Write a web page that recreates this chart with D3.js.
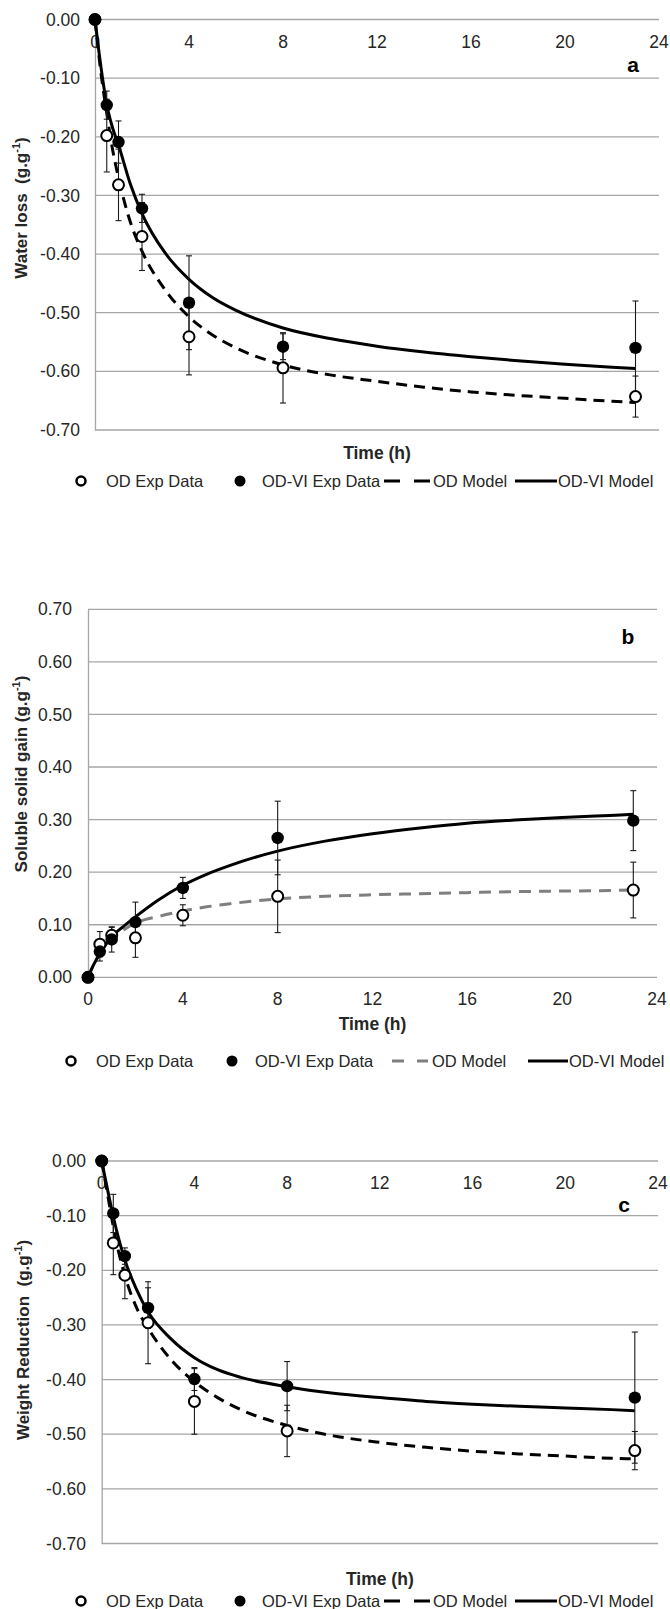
<!DOCTYPE html>
<html>
<head>
<meta charset="utf-8">
<script src="https://cdn.jsdelivr.net/npm/d3@7"></script>
<style>
  body { margin: 0; background: #fff; }
  svg { display: block; font-family: "Liberation Sans", Arial, sans-serif; }
</style>
</head>
<body>
<script>
// Sampling times (h) of the experiments.
var timeExp = [0, 0.5, 1, 2, 4, 8, 23];
// Times at which the model curves were read.
var timeModel = [0, 0.25, 0.5, 0.75, 1, 1.5, 2, 3, 4, 5, 6, 8, 10, 12, 14, 16, 18, 20, 22, 23];
var xTicks = [0, 4, 8, 12, 16, 20, 24];

// a: water loss
var wlOD      = [0, -0.198, -0.282, -0.370, -0.541, -0.594, -0.643];
var wlODErr   = [0, 0.062, 0.061, 0.058, 0.065, 0.060, 0.035];
var wlVI      = [0, -0.146, -0.209, -0.322, -0.483, -0.558, -0.560];
var wlVIErr   = [0, 0.024, 0.036, 0.024, 0.080, 0.022, 0.080];
var wlODModel = [0, -0.090, -0.160, -0.222, -0.270, -0.345, -0.395, -0.462, -0.507, -0.538, -0.560, -0.589,
                 -0.606, -0.617, -0.627, -0.635, -0.641, -0.646, -0.651, -0.653];
var wlVIModel = [0, -0.080, -0.145, -0.185, -0.214, -0.280, -0.331, -0.399, -0.443, -0.474, -0.496, -0.526,
                 -0.544, -0.557, -0.567, -0.575, -0.582, -0.588, -0.593, -0.595];

// b: soluble solid gain
var sgOD      = [0, 0.063, 0.080, 0.075, 0.118, 0.154, 0.166];
var sgODErr   = [0, 0.024, 0.015, 0.037, 0.020, 0.069, 0.053];
var sgVI      = [0, 0.049, 0.072, 0.105, 0.170, 0.265, 0.298];
var sgVIErr   = [0, 0.018, 0.024, 0.038, 0.020, 0.070, 0.057];
var sgODModel = [0, 0.025, 0.045, 0.060, 0.072, 0.090, 0.103, 0.116, 0.126, 0.134, 0.140, 0.149,
                 0.154, 0.157, 0.159, 0.161, 0.163, 0.164, 0.165, 0.166];
var sgVIModel = [0, 0.025, 0.045, 0.062, 0.077, 0.097, 0.115, 0.148, 0.175, 0.196, 0.213, 0.240,
                 0.259, 0.273, 0.284, 0.293, 0.299, 0.304, 0.308, 0.310];

// c: weight reduction
var wrOD      = [0, -0.150, -0.209, -0.296, -0.440, -0.494, -0.530];
var wrODErr   = [0, 0.058, 0.043, 0.075, 0.060, 0.047, 0.035];
var wrVI      = [0, -0.096, -0.174, -0.269, -0.399, -0.412, -0.433];
var wrVIErr   = [0, 0.035, 0.015, 0.037, 0.021, 0.045, 0.120];
var wrODModel = [0, -0.060, -0.120, -0.170, -0.210, -0.268, -0.306, -0.364, -0.404, -0.433, -0.455, -0.484,
                 -0.503, -0.515, -0.524, -0.531, -0.536, -0.540, -0.544, -0.545];
var wrVIModel = [0, -0.052, -0.102, -0.145, -0.181, -0.235, -0.276, -0.326, -0.360, -0.382, -0.396, -0.413,
                 -0.425, -0.433, -0.440, -0.445, -0.449, -0.452, -0.455, -0.457];

var width = 670, height = 1609;
var grid = "#a6a6a6", txt = "#262626";

var svg = d3.select("body").append("svg")
    .attr("width", width)
    .attr("height", height);

// Excel-style number: plain hyphen, two decimals.
function fmt(d) {
    var v = Math.round(d * 100) / 100;
    return (v < 0 ? "-" : "") + Math.abs(v).toFixed(2);
}

// One panel of the figure.
function panel(p) {
    var x = d3.scaleLinear().domain([0, 24]).range([p.left, p.right]);
    var y = d3.scaleLinear().domain(p.yDomain).range(p.yRange);
    var g = svg.append("g");

    // Horizontal gridlines.
    var yTicks = d3.range(0, 8).map(function(i) { return p.yDomain[0] + i * 0.1; });
    g.selectAll(".grid").data(yTicks).enter().append("line")
        .attr("x1", p.left).attr("x2", p.right)
        .attr("y1", function(d) { return y(d); })
        .attr("y2", function(d) { return y(d); })
        .attr("stroke", grid).attr("stroke-width", 1.3);

    // Y axis.
    var yAxis = g.append("g")
        .attr("transform", "translate(" + p.left + ",0)")
        .call(d3.axisLeft(y).tickValues(yTicks).tickSize(0).tickPadding(p.left - p.labelRight)
            .tickFormat(fmt));
    yAxis.select(".domain").attr("stroke", grid).attr("stroke-width", 1.3);
    yAxis.selectAll("text").attr("font-size", "17.5px").attr("fill", txt).attr("font-family", null);

    // X tick labels.
    g.selectAll(".xl").data(xTicks).enter().append("text")
        .attr("x", function(d) { return x(d); })
        .attr("y", p.xLabelY)
        .attr("text-anchor", "middle")
        .attr("font-size", "17.5px").attr("fill", txt)
        .text(function(d) { return d; });

    // Axis titles.
    g.append("text")
        .attr("x", (p.left + p.right) / 2).attr("y", p.timeY)
        .attr("text-anchor", "middle").attr("font-weight", "bold")
        .attr("font-size", "17.5px").attr("fill", txt)
        .text("Time (h)");

    var yt = g.append("text")
        .attr("transform", "translate(" + p.titleX + "," + p.titleY + ") rotate(-90)")
        .attr("text-anchor", "middle").attr("font-weight", "bold")
        .attr("font-size", "17px").attr("fill", txt);
    yt.append("tspan").text(p.title + "(g.g");
    yt.append("tspan").attr("font-size", "11px").attr("dy", -7).text("-1");
    yt.append("tspan").attr("dy", 7).text(")");

    g.append("text")
        .attr("x", p.letterX).attr("y", p.letterY)
        .attr("text-anchor", "middle").attr("font-weight", "bold")
        .attr("font-size", "21px").attr("fill", "#000")
        .text(p.letter);

    // Model curves.
    var line = d3.line()
        .x(function(d, i) { return x(timeModel[i]); })
        .y(function(d) { return y(d); })
        .curve(d3.curveMonotoneX);
    g.append("path").datum(p.odModel)
        .attr("d", line).attr("fill", "none")
        .attr("stroke", p.dashColor).attr("stroke-width", 3)
        .attr("stroke-dasharray", p.dash);
    g.append("path").datum(p.viModel)
        .attr("d", line).attr("fill", "none")
        .attr("stroke", "#000").attr("stroke-width", 3);

    // Error bars.
    function errors(vals, errs) {
        var eg = g.append("g").attr("stroke", "#1a1a1a").attr("stroke-width", 1.1);
        vals.forEach(function(v, i) {
            if (!errs[i]) return;
            var cx = x(timeExp[i]), y1 = y(v - errs[i]), y2 = y(v + errs[i]);
            eg.append("line").attr("x1", cx).attr("x2", cx).attr("y1", y1).attr("y2", y2);
            eg.append("line").attr("x1", cx - 3).attr("x2", cx + 3).attr("y1", y1).attr("y2", y1);
            eg.append("line").attr("x1", cx - 3).attr("x2", cx + 3).attr("y1", y2).attr("y2", y2);
        });
    }
    errors(p.od, p.odErr);
    errors(p.vi, p.viErr);

    // Experimental points.
    g.selectAll(".od").data(p.od).enter().append("circle")
        .attr("cx", function(d, i) { return x(timeExp[i]); })
        .attr("cy", function(d) { return y(d); })
        .attr("r", 5.5)
        .attr("fill", "#fff").attr("stroke", "#000").attr("stroke-width", 2);
    g.selectAll(".vi").data(p.vi).enter().append("circle")
        .attr("cx", function(d, i) { return x(timeExp[i]); })
        .attr("cy", function(d) { return y(d); })
        .attr("r", 6.2)
        .attr("fill", "#000");

    // Legend.
    var L = p.legend, ly = L.y;
    var lg = g.append("g").attr("font-size", "16.5px").attr("fill", txt);
    lg.append("circle").attr("cx", L.open).attr("cy", ly).attr("r", 4.5)
        .attr("fill", "#fff").attr("stroke", "#000").attr("stroke-width", 2.5);
    lg.append("text").attr("x", L.openText).attr("y", ly + 6).text("OD Exp Data");
    lg.append("circle").attr("cx", L.filled).attr("cy", ly).attr("r", 5.5).attr("fill", "#000");
    lg.append("text").attr("x", L.filledText).attr("y", ly + 6).text("OD-VI Exp Data");
    lg.append("line").attr("x1", L.dash[0]).attr("x2", L.dash[1]).attr("y1", ly).attr("y2", ly)
        .attr("stroke", p.dashColor).attr("stroke-width", 3).attr("stroke-dasharray", L.dashArray);
    lg.append("text").attr("x", L.dashText).attr("y", ly + 6).text("OD Model");
    lg.append("line").attr("x1", L.solid[0]).attr("x2", L.solid[1]).attr("y1", ly).attr("y2", ly)
        .attr("stroke", "#000").attr("stroke-width", 3);
    lg.append("text").attr("x", L.solidText).attr("y", ly + 6).text("OD-VI Model");
}

var legendAC = { open: 81, openText: 106, filled: 240, filledText: 262, dash: [384, 430],
                 dashArray: "16,14", dashText: 433, solid: [515, 557], solidText: 558 };

panel({
    left: 95, right: 659, yDomain: [-0.7, 0], yRange: [430, 19.5], labelRight: 80,
    xLabelY: 48, timeY: 459, title: "Water loss\u00a0\u00a0", titleX: 27, titleY: 208,
    letter: "a", letterX: 633, letterY: 72, dash: "11,7", dashColor: "#000",
    od: wlOD, odErr: wlODErr, vi: wlVI, viErr: wlVIErr, odModel: wlODModel, viModel: wlVIModel,
    legend: Object.assign({ y: 481 }, legendAC)
});

panel({
    left: 88, right: 657, yDomain: [0, 0.7], yRange: [977.3, 609.3], labelRight: 72,
    xLabelY: 1005, timeY: 1030, title: "Soluble solid gain ", titleX: 27, titleY: 774,
    letter: "b", letterX: 628, letterY: 644, dash: "12,8", dashColor: "#7f7f7f",
    od: sgOD, odErr: sgODErr, vi: sgVI, viErr: sgVIErr, odModel: sgODModel, viModel: sgVIModel,
    legend: { y: 1061, open: 71, openText: 96, filled: 232, filledText: 255, dash: [392, 428],
              dashArray: "12,13", dashText: 432, solid: [528, 568], solidText: 569 }
});

panel({
    left: 101.7, right: 658, yDomain: [-0.7, 0], yRange: [1543.5, 1161], labelRight: 86,
    xLabelY: 1189, timeY: 1585, title: "Weight Reduction\u00a0\u00a0", titleX: 29, titleY: 1340,
    letter: "c", letterX: 624, letterY: 1212, dash: "11,7", dashColor: "#000",
    od: wrOD, odErr: wrODErr, vi: wrVI, viErr: wrVIErr, odModel: wrODModel, viModel: wrVIModel,
    legend: Object.assign({ y: 1601 }, legendAC)
});
</script>
</body>
</html>
